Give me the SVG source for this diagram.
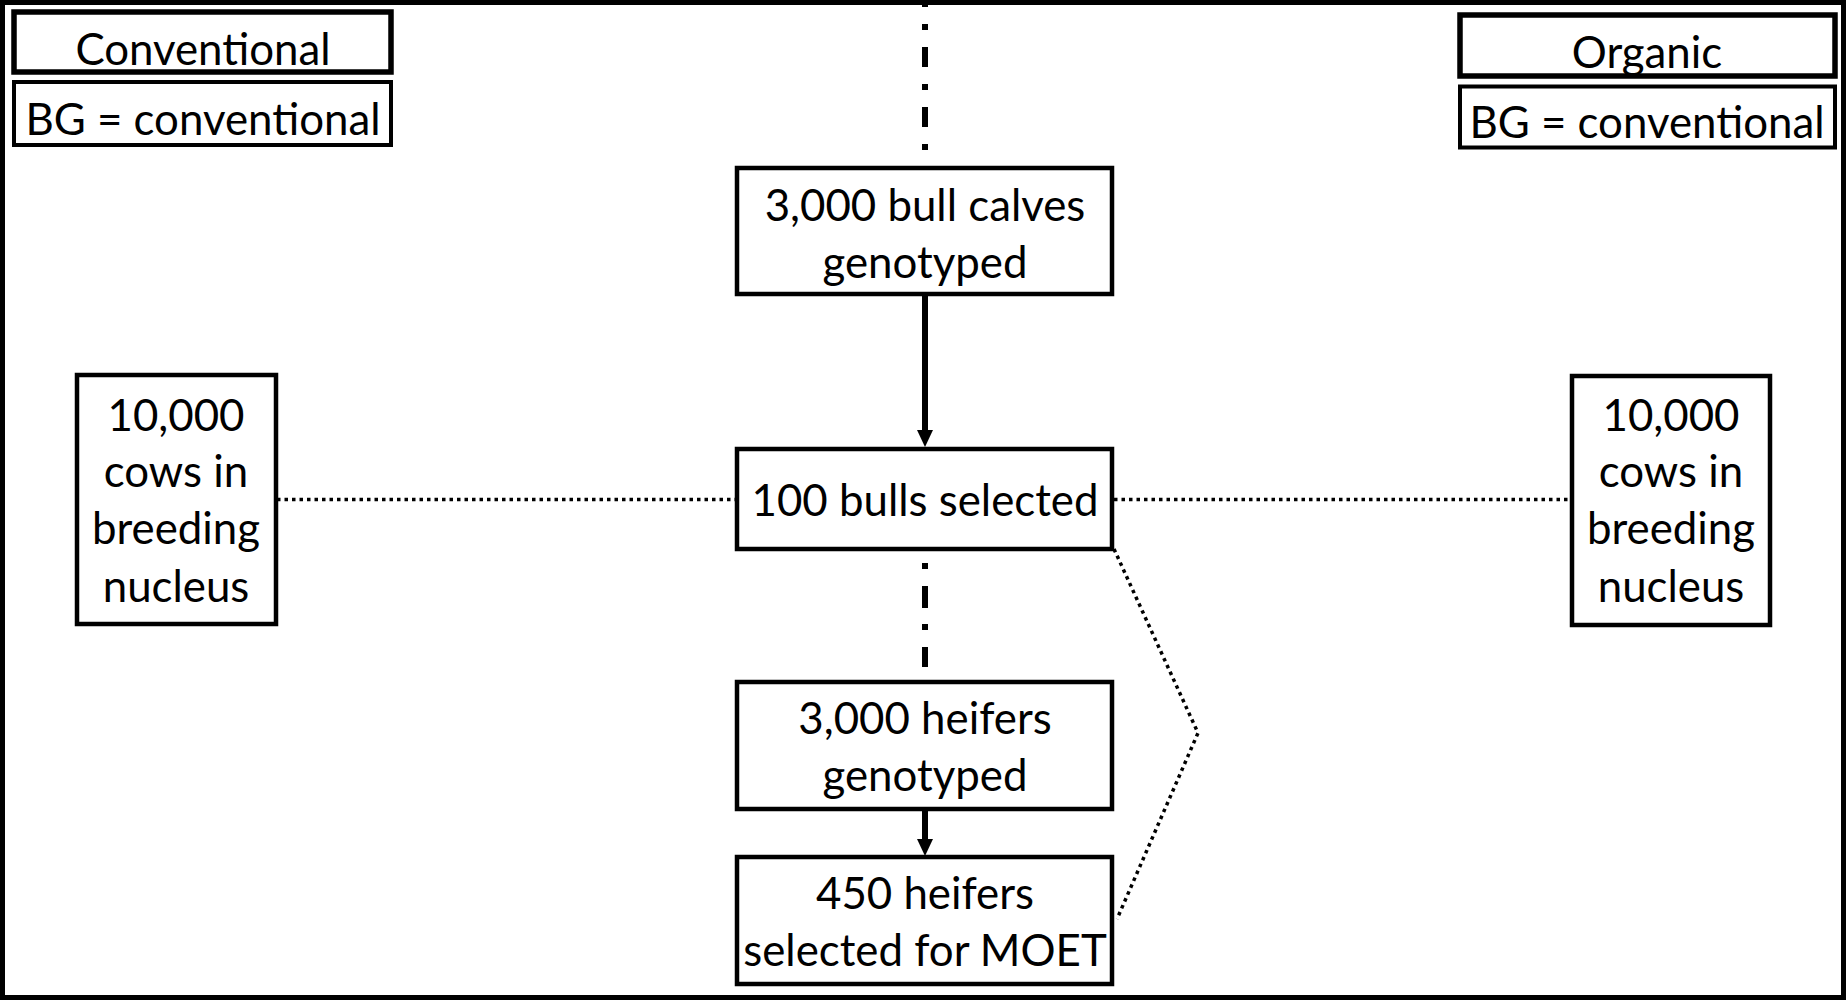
<svg xmlns="http://www.w3.org/2000/svg" width="1847" height="1000" viewBox="0 0 1847 1000">
<style>
  text { font-family: Lato, "Open Sans", "Liberation Sans", sans-serif; font-size: 43.8px; fill: #000; text-anchor: middle; }
  .box { fill: #fff; stroke: #000; stroke-width: 4.5; }
  .hdr { fill: #fff; stroke: #000; stroke-width: 5.5; }
  .bg { fill: #fff; stroke: #000; stroke-width: 4; }
  .arrow { stroke: #000; stroke-width: 6; fill: none; }
  .dashdot { stroke: #000; stroke-width: 6; fill: none; stroke-dasharray: 20 17 6 17; }
  .dotted { stroke: #000; stroke-width: 3.5; fill: none; stroke-dasharray: 3.5 4; }
</style>
<defs>
  <marker id="head" viewBox="0 0 17 16" refX="0" refY="8" markerWidth="17" markerHeight="16" markerUnits="userSpaceOnUse" orient="auto">
    <path d="M0,0 L17,8 L0,16 z" fill="#000"/>
  </marker>
</defs>
<rect x="0" y="0" width="1847" height="1000" fill="#fff"/>
<rect id="frame" x="2.5" y="2.5" width="1841" height="995" fill="none" stroke="#000" stroke-width="5"/>

<g id="connectors">
  <line class="dashdot" x1="925" y1="-13" x2="925" y2="150"/>
  <line class="arrow" x1="925" y1="294" x2="925" y2="430" marker-end="url(#head)"/>
  <line class="dotted" x1="277" y1="499.5" x2="735" y2="499.5"/>
  <line class="dotted" x1="1114" y1="499.5" x2="1570" y2="499.5"/>
  <line class="dashdot" x1="925" y1="563" x2="925" y2="667" style="stroke-dasharray: 6 17 22 16"/>
  <line class="arrow" x1="925" y1="809" x2="925" y2="839" marker-end="url(#head)"/>
  <polyline class="dotted" points="1114,549 1198,733 1117,919"/>
</g>

<g id="conventional-label">
  <rect class="hdr" x="14" y="12" width="377" height="60"/>
  <text x="203" y="64.5">Conventional</text>
</g>
<g id="conventional-bg">
  <rect class="bg" x="14" y="82" width="377" height="63"/>
  <text x="203" y="134.5">BG = conventional</text>
</g>
<g id="organic-label">
  <rect class="hdr" x="1460" y="15" width="375" height="61"/>
  <text x="1647" y="67.5">Organic</text>
</g>
<g id="organic-bg">
  <rect class="bg" x="1460" y="86.5" width="375" height="61"/>
  <text x="1647" y="137.5">BG = conventional</text>
</g>

<g id="bull-calves">
  <rect class="box" x="737" y="168" width="375" height="126"/>
  <text x="925" y="221">3,000 bull calves</text>
  <text x="925" y="277.5">genotyped</text>
</g>
<g id="bulls-selected">
  <rect class="box" x="737" y="449" width="375" height="100"/>
  <text x="925" y="516">100 bulls selected</text>
</g>
<g id="heifers-genotyped">
  <rect class="box" x="737" y="682" width="375" height="127"/>
  <text x="925" y="734">3,000 heifers</text>
  <text x="925" y="791">genotyped</text>
</g>
<g id="heifers-moet">
  <rect class="box" x="737" y="857" width="375" height="127"/>
  <text x="925" y="909">450 heifers</text>
  <text x="925" y="966">selected for MOET</text>
</g>

<g id="cows-conventional">
  <rect class="box" x="77" y="375" width="199" height="249"/>
  <text x="176" y="431">10,000</text>
  <text x="176" y="487">cows in</text>
  <text x="176" y="544">breeding</text>
  <text x="176" y="602">nucleus</text>
</g>
<g id="cows-organic">
  <rect class="box" x="1572" y="376" width="198" height="249"/>
  <text x="1671" y="431">10,000</text>
  <text x="1671" y="487">cows in</text>
  <text x="1671" y="544">breeding</text>
  <text x="1671" y="602">nucleus</text>
</g>
</svg>
